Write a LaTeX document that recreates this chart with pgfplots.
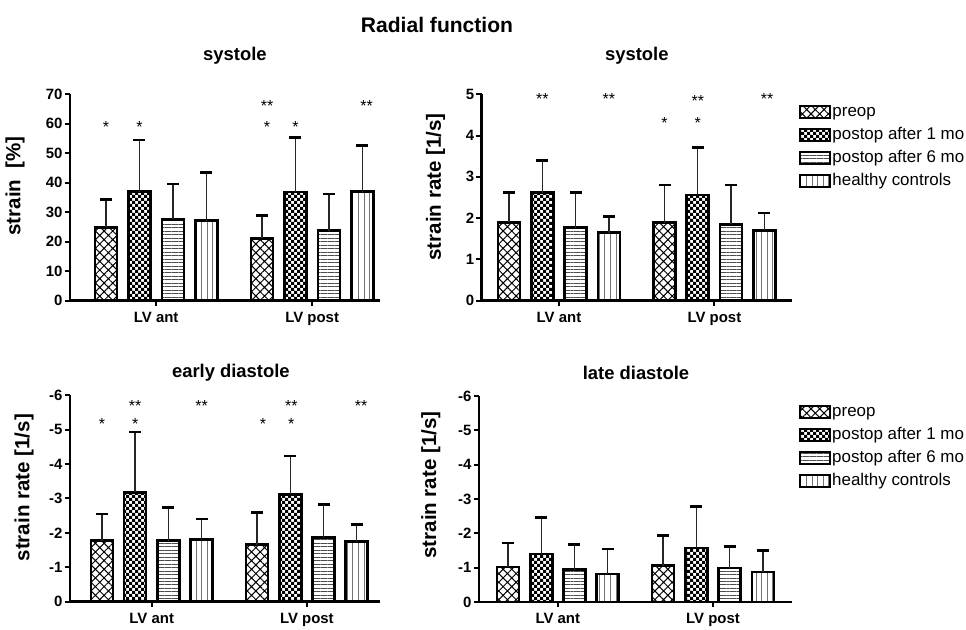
\documentclass[border=0pt]{standalone}
\usepackage{fontspec}
\setmainfont{Liberation Sans}
\usepackage{pgfplots}
\pgfplotsset{compat=1.18}
\usetikzlibrary{patterns,patterns.meta}

\pgfdeclarepatternformonly{finechecker}{\pgfqpoint{-0.5pt}{-0.5pt}}{\pgfqpoint{5pt}{5pt}}{\pgfqpoint{4.5pt}{4.5pt}}%
{\pgfpathrectangle{\pgfpointorigin}{\pgfqpoint{2.25pt}{2.25pt}}%
 \pgfpathrectangle{\pgfqpoint{2.25pt}{2.25pt}}{\pgfqpoint{2.25pt}{2.25pt}}%
 \pgfusepath{fill}}

\tikzset{st/.style={font=\fontsize{12}{12}\selectfont, inner sep=0pt, anchor=center, yshift=-2.6pt}}
\pgfplotsset{
  panel/.style={
    scale only axis, anchor=south west, clip=false,
    axis x line=bottom, axis y line=left,
    axis line style={-, line width=2pt, black},
    tick align=outside, major tick length=4pt,
    tick style={line width=1.5pt, black},
    xtick={1.5,6.17}, xticklabels={LV ant, LV post},
    ticklabel style={font=\fontsize{11.2}{12}\selectfont\bfseries, inner sep=1.5pt},
    xticklabel style={yshift=-3pt},
    /pgf/number format/assume math mode=true,
    ylabel style={font=\fontsize{15.4}{17}\selectfont\bfseries, anchor=center},
    title style={font=\fontsize{13.8}{15}\selectfont\bfseries, anchor=center},
    legend style={draw=none, fill=none, font=\fontsize{12.7}{14}\selectfont,
      at={(axis description cs:1,1)}, anchor=north west, inner sep=0pt,
      row sep=3.3pt, nodes={inner sep=1pt, text height=9.3pt, text depth=2.7pt},
      /tikz/every even column/.append style={column sep=2pt}},
    legend cell align=left,
  },
  barplot/.style={ybar, bar shift=0pt, bar width=16.5pt, draw=black, line width=2pt,
    /pgfplots/legend image code/.code={\draw[##1, line width=1.4pt] (0pt,-4.5pt) rectangle (22.5pt,4.5pt);},
    error bars/y explicit,
    error bars/error mark=-,
    error bars/error bar style={line width=1pt, black!85},
    error bars/error mark options={rotate=90, line width=2pt, mark size=4.5pt, black}},
  s1/.style={barplot, pattern={Hatch[angle=45,distance=4.6pt,line width=0.75pt]}, pattern color=black},
  s2/.style={barplot, pattern=finechecker, pattern color=black},
  s3/.style={barplot, pattern={Lines[angle=0,distance=2.6pt,line width=0.65pt]}, pattern color=black!70},
  s4/.style={barplot, pattern={Lines[angle=90,distance=4.2pt,line width=0.7pt]}, pattern color=black!55},
  eup/.style={error bars/y dir=plus},
  edn/.style={error bars/y dir=minus},
}

\begin{document}
\begin{tikzpicture}
\useasboundingbox (0,0) rectangle (724.5pt,-472.5pt);
\node[font=\fontsize{15.8}{17}\selectfont\bfseries] at (327.75pt,-18.75pt) {Radial function};

% ---------------- top left: strain systole
\begin{axis}[panel, at={(52.5pt,-225.5pt)}, width=232.5pt, height=154.8pt,
  xmin=-1.08, xmax=8.2, ymin=0, ymax=70, ytick={0,10,...,70},
  ylabel={strain\ \ [\%]}, ylabel style={at={(axis description cs:-0.177,0.556)}},
  title={systole}, title style={at={(axis description cs:0.532,1.147)}}]
\addplot[s1,eup] coordinates {(0,24.9) +- (0,9.3) (4.67,21.1) +- (0,7.7)};
\addplot[s2,eup] coordinates {(1,37.0) +- (0,17.5) (5.67,36.8) +- (0,18.6)};
\addplot[s3,eup] coordinates {(2,27.6) +- (0,12.0) (6.67,23.7) +- (0,12.5)};
\addplot[s4,eup] coordinates {(3,27.1) +- (0,16.3) (7.67,37.0) +- (0,15.7)};
\node[st] at (axis cs:0,60.2) {*};
\node[st] at (axis cs:1,60.2) {*};
\node[st] at (axis cs:4.82,67.1) {**};
\node[st] at (axis cs:4.82,60.2) {*};
\node[st] at (axis cs:5.67,60.2) {*};
\node[st] at (axis cs:7.8,67.1) {**};
\end{axis}

% ---------------- top right: strain rate systole
\begin{axis}[panel, at={(361.3pt,-225.5pt)}, width=232.7pt, height=154.8pt,
  xmin=-0.82, xmax=8.5, ymin=0, ymax=5, ytick={0,1,...,5},
  ylabel={strain rate [1/s]}, ylabel style={at={(axis description cs:-0.149,0.551)}},
  title={systole}, title style={at={(axis description cs:0.5,1.147)}},
  legend style={xshift=5.25pt, yshift=-5.8pt}]
\addplot[s1,eup] coordinates {(0,1.90) +- (0,0.72) (4.67,1.89) +- (0,0.91)};
\addplot[s2,eup] coordinates {(1,2.62) +- (0,0.77) (5.67,2.56) +- (0,1.15)};
\addplot[s3,eup] coordinates {(2,1.77) +- (0,0.85) (6.67,1.85) +- (0,0.95)};
\addplot[s4,eup] coordinates {(3,1.65) +- (0,0.39) (7.67,1.70) +- (0,0.42)};
\legend{preop, postop after 1 mo, postop after 6 mo, healthy controls}
\node[st] at (axis cs:1,4.98) {**};
\node[st] at (axis cs:3,4.98) {**};
\node[st] at (axis cs:4.67,4.38) {*};
\node[st] at (axis cs:5.67,4.93) {**};
\node[st] at (axis cs:5.67,4.38) {*};
\node[st] at (axis cs:7.75,4.98) {**};
\end{axis}

% ---------------- bottom left: early diastole
\begin{axis}[panel, y dir=reverse, at={(52.5pt,-451.3pt)}, width=232.5pt, height=155pt,
  xmin=-0.96, xmax=8.37, ymin=-6, ymax=0, ytick={-6,-5,...,0},
  ylabel={strain rate [1/s]}, ylabel style={at={(axis description cs:-0.148,0.552)}},
  title={early diastole}, title style={at={(axis description cs:0.519,1.068)}}]
\addplot[s1,edn] coordinates {(0,-1.77) +- (0,0.78) (4.67,-1.66) +- (0,0.94)};
\addplot[s2,edn] coordinates {(1,-3.18) +- (0,1.75) (5.67,-3.12) +- (0,1.11)};
\addplot[s3,edn] coordinates {(2,-1.77) +- (0,0.96) (6.67,-1.86) +- (0,0.97)};
\addplot[s4,edn] coordinates {(3,-1.80) +- (0,0.60) (7.67,-1.74) +- (0,0.51)};
\node[st] at (axis cs:0,-5.27) {*};
\node[st] at (axis cs:1,-5.78) {**};
\node[st] at (axis cs:1,-5.27) {*};
\node[st] at (axis cs:3,-5.78) {**};
\node[st] at (axis cs:4.85,-5.27) {*};
\node[st] at (axis cs:5.7,-5.78) {**};
\node[st] at (axis cs:5.7,-5.27) {*};
\node[st] at (axis cs:7.8,-5.78) {**};
\end{axis}

% ---------------- bottom right: late diastole
\begin{axis}[panel, y dir=reverse, at={(359.3pt,-451.5pt)}, width=234.5pt, height=154.5pt,
  xmin=-0.87, xmax=8.54, ymin=-6, ymax=0, ytick={-6,-5,...,0},
  ylabel={strain rate [1/s]}, ylabel style={at={(axis description cs:-0.154,0.568)}},
  title={late diastole}, title style={at={(axis description cs:0.502,1.073)}},
  legend style={xshift=5.25pt, yshift=-4.5pt}]
\addplot[s1,edn] coordinates {(0,-1.02) +- (0,0.70) (4.67,-1.06) +- (0,0.88)};
\addplot[s2,edn] coordinates {(1,-1.40) +- (0,1.06) (5.67,-1.57) +- (0,1.21)};
\addplot[s3,edn] coordinates {(2,-0.94) +- (0,0.73) (6.67,-0.99) +- (0,0.63)};
\addplot[s4,edn] coordinates {(3,-0.82) +- (0,0.72) (7.67,-0.87) +- (0,0.63)};
\legend{preop, postop after 1 mo, postop after 6 mo, healthy controls}
\end{axis}
\end{tikzpicture}
\end{document}
